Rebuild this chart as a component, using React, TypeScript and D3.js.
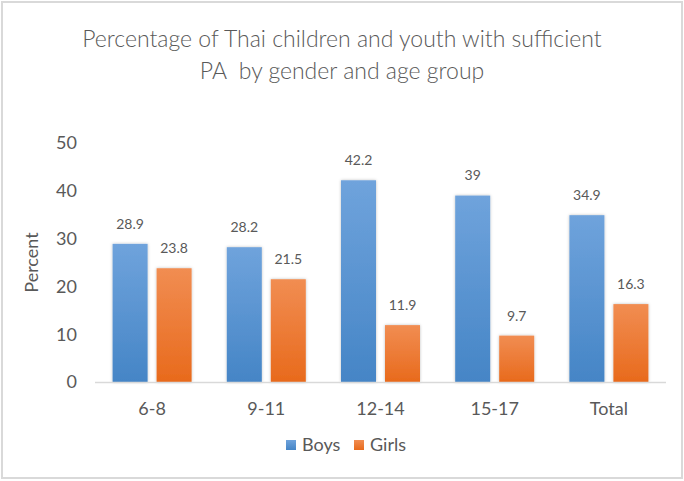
import React from "react";
import * as d3 from "d3";

const categories = ["6-8", "9-11", "12-14", "15-17", "Total"];
const boys = [28.9, 28.2, 42.2, 39, 34.9];
const girls = [23.8, 21.5, 11.9, 9.7, 16.3];
const seriesNames = ["Boys", "Girls"];
const yTicks = [0, 10, 20, 30, 40, 50];
const titleLines = ["Percentage of Thai children and youth with sufficient", "PA  by gender and age group"];

const W = 684;
const H = 481;
const FONT = "Lato, 'Open Sans', sans-serif";
const TEXT = "#595959";

export default function App() {
  const x = d3.scaleBand<string>().domain(categories).range([95, 666]);
  const y = d3.scaleLinear().domain([0, 50]).range([382, 143]);
  const barW = 35;
  const gap = 9;
  const series = [
    { name: seriesNames[0], values: boys, grad: "gBoys" },
    { name: seriesNames[1], values: girls, grad: "gGirls" },
  ];
  return (
    <svg width={W} height={H} style={{ position: "absolute", left: 0, top: 0 }} fontFamily={FONT}>
      <defs>
        <linearGradient id="gBoys" x1="0" y1="0" x2="0" y2="1">
          <stop offset="0" stopColor="#6fa3dc" />
          <stop offset="1" stopColor="#4585c6" />
        </linearGradient>
        <linearGradient id="gGirls" x1="0" y1="0" x2="0" y2="1">
          <stop offset="0" stopColor="#f18d52" />
          <stop offset="1" stopColor="#e86a1c" />
        </linearGradient>
        <filter id="sh" x="-20%" y="-10%" width="140%" height="120%">
          <feDropShadow dx="0" dy="0" stdDeviation="1.5" floodColor="#000" floodOpacity="0.25" />
        </filter>
      </defs>
      <rect x={0} y={0} width={W} height={H} fill="#fff" />
      <rect x={2} y={2} width={W - 4} height={H - 5} fill="#fff" stroke="#d9d9d9" strokeWidth={2} />
      {titleLines.map((t, i) => (
        <text key={i} x={W / 2} y={47 + i * 32} textAnchor="middle" fontSize={23} fontWeight={300} fill={TEXT} style={{ whiteSpace: "pre" }}>
          {t}
        </text>
      ))}
      {yTicks.map((t) => (
        <text key={t} x={77} y={y(t)} dy="0.35em" textAnchor="end" fontSize={18} fill={TEXT}>
          {t}
        </text>
      ))}
      <text transform={`translate(38,${y(25)}) rotate(-90)`} textAnchor="middle" fontSize={18} fill={TEXT}>
        Percent
      </text>
      {categories.map((c, i) => {
        const cx = (x(c) as number) + x.bandwidth() / 2;
        return (
          <g key={c}>
            {series.map((s, j) => {
              const bx = j === 0 ? cx - gap / 2 - barW : cx + gap / 2;
              const v = s.values[i];
              return (
                <g key={s.name}>
                  <rect x={bx} y={y(v)} width={barW} height={y(0) - y(v)} fill={`url(#${s.grad})`} filter="url(#sh)" />
                  <text x={bx + barW / 2} y={y(v) - 20} dy="0.35em" textAnchor="middle" fontSize={14} fill={TEXT}>
                    {v}
                  </text>
                </g>
              );
            })}
            <text x={cx} y={409} dy="0.35em" textAnchor="middle" fontSize={18} fill={TEXT}>
              {c}
            </text>
          </g>
        );
      })}
      <line x1={95} x2={666} y1={y(0) + 0.5} y2={y(0) + 0.5} stroke="#d9d9d9" strokeWidth={1.5} />
      {series.map((s, j) => {
        const lx = j === 0 ? 286 : 354;
        return (
          <g key={s.name}>
            <rect x={lx} y={440} width={10} height={10} fill={`url(#${s.grad})`} />
            <text x={lx + 16} y={445} dy="0.35em" fontSize={18} fill={TEXT}>
              {s.name}
            </text>
          </g>
        );
      })}
    </svg>
  );
}
